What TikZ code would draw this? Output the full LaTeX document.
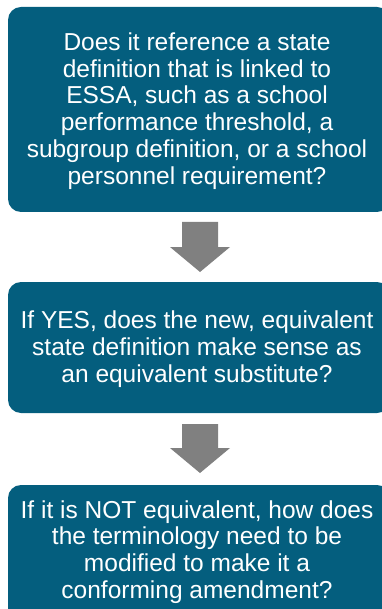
\documentclass[tikz,border=0pt]{standalone}
\usepackage{fontspec}
\setmainfont{Liberation Sans}
\definecolor{boxblue}{RGB}{4,94,126}
\definecolor{arrowgray}{RGB}{128,128,128}
\begin{document}
\begin{tikzpicture}[x=1pt,y=-1pt,
  qbox/.style={fill=boxblue,draw=none,rounded corners=13pt},
  qtext/.style={text=white,align=center,font=\fontsize{24.5}{26.8}\selectfont,inner sep=0pt},
  downarrow/.style={fill=arrowgray,draw=none}]
\useasboundingbox (0,0) rectangle (381,609);
% boxes
\path[qbox] (8,7) rectangle (390,212);
\path[qbox] (8,282) rectangle (390,413);
\path[qbox] (8,485) rectangle (390,630);
% texts
\node[qtext] (t1) at (197,111) {Does it reference a state\\definition that is linked to\\ESSA, such as a school\\performance threshold, a\\subgroup definition, or a school\\personnel requirement?};
\node[qtext] (t2) at (197,349) {If YES, does the new, equivalent\\state definition make sense as\\an equivalent substitute?};
\node[qtext] (t3) at (197,552) {If it is NOT equivalent, how does\\the terminology need to be\\modified to make it a\\conforming amendment?};
% arrows
\path[downarrow] (182,222) -- (218,222) -- (218,247) -- (230,247) -- (200,272) -- (170,247) -- (182,247) -- cycle;
\path[downarrow] (182,424) -- (218,424) -- (218,448) -- (230,448) -- (200,473) -- (170,448) -- (182,448) -- cycle;
\end{tikzpicture}
\end{document}
